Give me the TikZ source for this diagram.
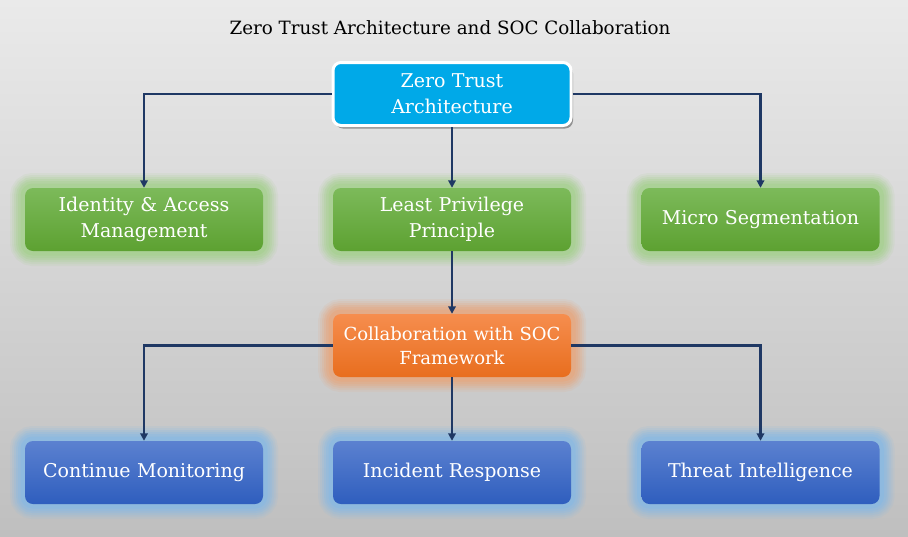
\documentclass[tikz,border=0pt]{standalone}
\usepackage{fontspec}
\setmainfont{DejaVu Serif}
\usetikzlibrary{arrows.meta,shadows}
\definecolor{bgtop}{HTML}{EAEAEA}
\definecolor{bgbot}{HTML}{BFBFBF}
\definecolor{navy}{HTML}{1F3864}
\definecolor{ztafill}{HTML}{00A9E8}
\definecolor{gtop}{HTML}{7CBA5A}
\definecolor{gbot}{HTML}{5DA131}
\definecolor{gglow}{HTML}{A3D08A}
\definecolor{otop}{HTML}{F68D4E}
\definecolor{obot}{HTML}{E86E1E}
\definecolor{oglow}{HTML}{E8A57A}
\definecolor{btop}{HTML}{5B81D0}
\definecolor{bbot}{HTML}{2F5EBE}
\definecolor{bglow}{HTML}{85B9E6}
\tikzset{
  box/.style={rounded corners=8pt, minimum width=238pt, minimum height=63pt,
    text width=232pt, align=center, text=white, font=\fontsize{19}{26}\selectfont, inner sep=0pt},
  glowit/.style={
    preaction={draw=#1, line width=30pt, draw opacity=0.12, fill=none},
    preaction={draw=#1, line width=26pt, draw opacity=0.15, fill=none},
    preaction={draw=#1, line width=22pt, draw opacity=0.2, fill=none},
    preaction={draw=#1, line width=18pt, draw opacity=0.25, fill=none},
    preaction={draw=#1, line width=14pt, draw opacity=0.3, fill=none},
    preaction={draw=#1, line width=9pt, draw opacity=0.45, fill=none}},
  greenbox/.style={box, glowit=gglow, top color=gtop, bottom color=gbot},
  orangebox/.style={box, glowit=oglow, top color=otop, bottom color=obot},
  bluebox/.style={box, glowit=bglow, top color=btop, bottom color=bbot},
  conn/.style={draw=navy, line width=2.2pt, -{Triangle[length=7.5pt,width=7.5pt]}}
}
\begin{document}
\begin{tikzpicture}[x=1pt,y=-1pt]
\shade[top color=bgtop, bottom color=bgbot] (0,0) rectangle (908,536);
\useasboundingbox (0,0) rectangle (908,536);
\node[font=\fontsize{18.3}{22}\selectfont] (title) at (450,28) {Zero Trust Architecture and SOC Collaboration};
\node[box, fill=ztafill, draw=white, line width=3pt,
  drop shadow={shadow xshift=2pt, shadow yshift=-3pt, opacity=0.35, fill=black}] (zta) at (452,94) {Zero Trust\\Architecture};
\node[greenbox] (iam) at (144,219.5) {Identity \& Access\\Management};
\node[greenbox] (lpp) at (452,219.5) {Least Privilege\\Principle};
\node[greenbox] (ms) at (760.5,219.5) {Micro Segmentation};
\node[orangebox, font=\fontsize{18}{24}\selectfont] (soc) at (452,345.5) {Collaboration with SOC\\Framework};
\node[bluebox] (cm) at (144,472.5) {Continue Monitoring};
\node[bluebox] (ir) at (452,472.5) {Incident Response};
\node[bluebox] (ti) at (760.5,472.5) {Threat Intelligence};
\draw[conn] (zta.west) -| (iam.north);
\draw[conn] (zta.south) -- (lpp.north);
\draw[conn] (zta.east) -| (ms.north);
\draw[conn] (lpp.south) -- (soc.north);
\draw[conn] (soc.west) -| (cm.north);
\draw[conn] (soc.south) -- (ir.north);
\draw[conn] (soc.east) -| (ti.north);
\end{tikzpicture}
\end{document}
